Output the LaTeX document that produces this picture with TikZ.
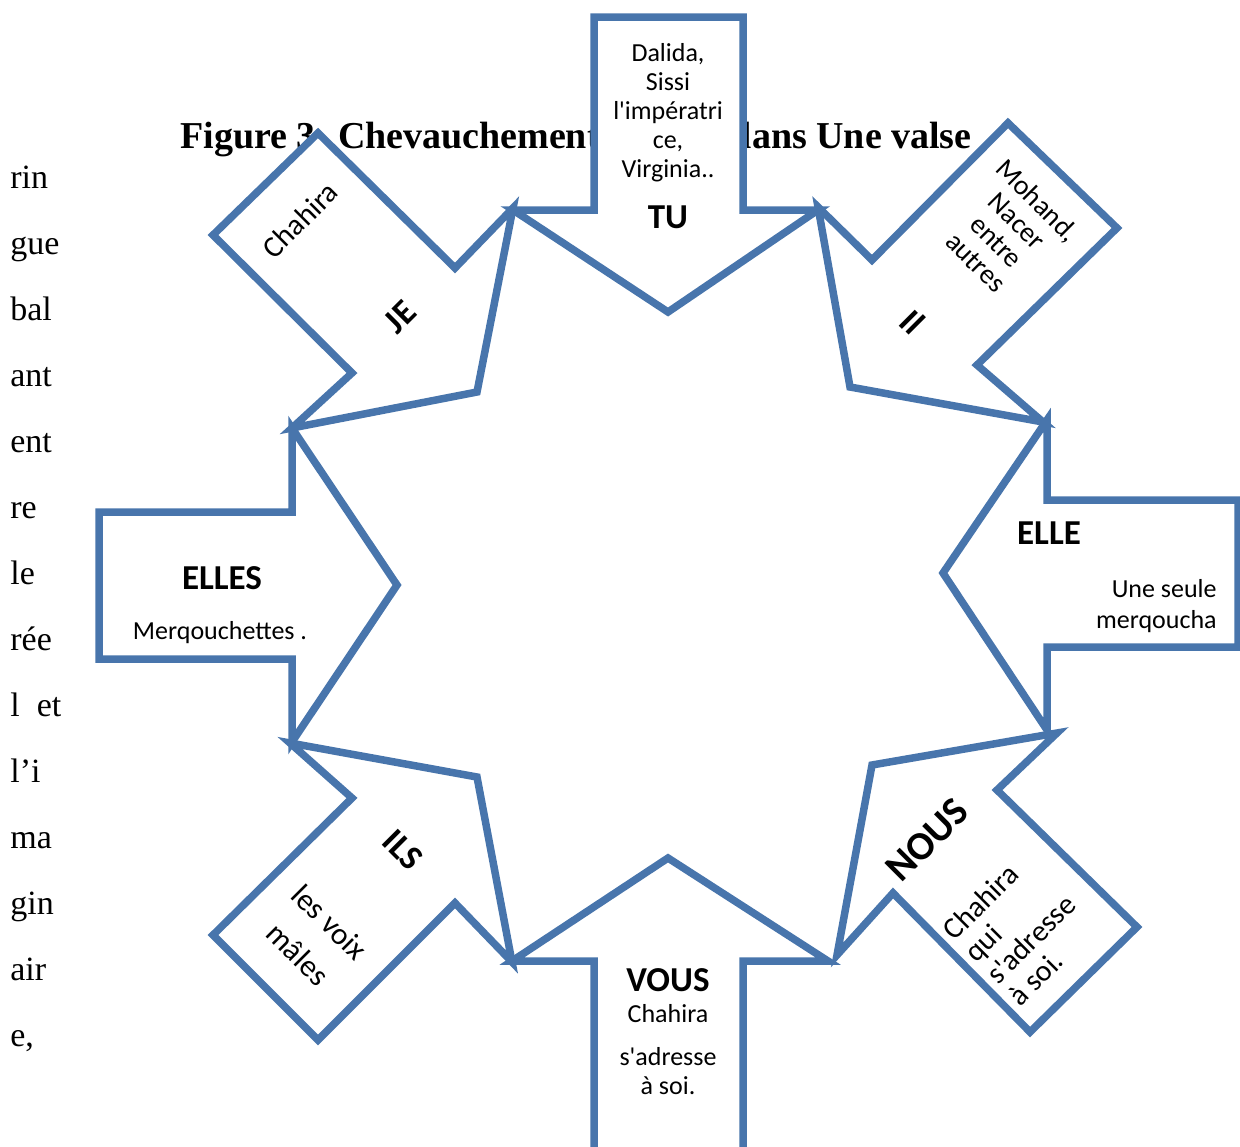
\documentclass[tikz,border=0pt]{standalone}
\usepackage{fontspec}
\setmainfont{Liberation Serif}
\newfontfamily\calibri{Carlito}[Ligatures=TeXOff]
\usepackage{tikz}
\definecolor{shapeblue}{RGB}{72,117,172}

\begin{document}
\begin{tikzpicture}[x=0.5pt, y=-0.5pt,
    arrowshape/.style={draw=shapeblue, fill=white, line width=3.75pt, line join=miter},
    pron/.style={font=\calibri\bfseries\fontsize{17.5}{21}\selectfont, inner sep=0pt},
    who/.style={font=\calibri\fontsize{13}{14.5}\selectfont, align=center, inner sep=0pt},
    body/.style={font=\fontsize{17}{17}\selectfont, anchor=base west, inner sep=0pt}]
      \useasboundingbox (0, 0) rectangle (1240, 1146);

      % text of the page behind the figure
      \node[body, font=\bfseries\fontsize{19}{19}\selectfont] (title) at (180, 148) {Figure 3. Chevauchement};
      \node[body, anchor=base east, font=\bfseries\fontsize{19}{19}\selectfont] (titleend) at (972, 148) {dans Une valse};
      \node[body] (w1) at (10, 188) {rin};
      \node[body] (w2) at (10, 254) {gue};
      \node[body] (w3) at (10, 320) {bal};
      \node[body] (w4) at (10, 386) {ant};
      \node[body] (w5) at (10, 452) {ent};
      \node[body] (w6) at (10, 518) {re};
      \node[body] (w7) at (10, 584) {le};
      \node[body] (w8) at (10, 650) {rée};
      \node[body] (w9) at (10, 716) {l\ \ et};
      \node[body] (w10) at (10, 782) {l’i};
      \node[body] (w11) at (10, 848) {ma};
      \node[body] (w12) at (10, 914) {gin};
      \node[body] (w13) at (10, 980) {air};
      \node[body] (w14) at (10, 1046) {e,};

      % the eight arrows
      \draw[arrowshape] (594, 17) -- (743, 17) -- (743, 210) -- (818, 210) -- (668, 312) -- (513, 210) -- (594, 210) -- cycle;
      \draw[arrowshape] (1008, 123) -- (1117, 228) -- (977, 365) -- (1043, 422) -- (850, 387) -- (818, 207) -- (872, 260) -- cycle;
      \draw[arrowshape] (1238, 500) -- (1238, 647) -- (1047, 647) -- (1047, 730) -- (943, 573) -- (1047, 420) -- (1047, 500) -- cycle;
      \draw[arrowshape] (1137, 927) -- (1030, 1032) -- (893, 893) -- (837, 955) -- (872, 765) -- (1057, 733) -- (997, 790) -- cycle;
      \draw[arrowshape] (743, 1153) -- (594, 1153) -- (594, 961) -- (512, 961) -- (668, 858) -- (828, 961) -- (743, 961) -- cycle;
      \draw[arrowshape] (318, 1040) -- (213, 935) -- (352, 798) -- (290, 743) -- (477, 777) -- (512, 962) -- (455, 903) -- cycle;
      \draw[arrowshape] (99, 512) -- (292, 512) -- (292, 428) -- (397, 585) -- (292, 742) -- (292, 659) -- (99, 659) -- cycle;
      \draw[arrowshape] (213, 235) -- (318, 133) -- (455, 268) -- (513, 208) -- (477, 392) -- (292, 428) -- (352, 373) -- cycle;

      % pronouns and who they stand for
      \node[who] (tuwho) at (668, 113) {Dalida,\\Sissi\\l'impératri\\ce,\\Virginia..};
      \node[pron] (tu) at (668, 217) {TU};

      \node[who, rotate=-45, font=\calibri\fontsize{14}{14.5}\selectfont] (ilwho) at (1007, 231) {Mohand,\\Nacer\\entre\\autres};
      \node[pron, rotate=-45] (il) at (913, 322) {Il};

      \node[pron] (elle) at (1049, 533) {ELLE};
      \node[who, align=right, anchor=east, font=\calibri\fontsize{13}{15.5}\selectfont] (ellewho) at (1217, 606) {Une seule\\merqoucha};

      \node[pron, rotate=45, font=\calibri\bfseries\fontsize{20}{24}\selectfont] (nous) at (927, 840) {NOUS};
      \node[who, rotate=45, align=left, font=\calibri\fontsize{15}{15.5}\selectfont] (nouswho) at (1020, 928) {Chahira\\qui\\s'adresse\\à soi.};

      \node[pron] (vous) at (668, 980) {VOUS};
      \node[who] (vouswho) at (668, 1014) {Chahira};
      \node[who] (vouswhotoo) at (668, 1071) {s'adresse\\à soi.};

      \node[pron, rotate=-45] (ils) at (403, 850) {ILS};
      \node[who, rotate=-45, font=\calibri\fontsize{15.5}{22.5}\selectfont] (ilswho) at (314, 938) {les voix\\mâles};

      \node[pron] (elles) at (222, 578) {ELLES};
      \node[who] (elleswho) at (220, 633) {Merqouchettes .};

      \node[who, rotate=45, font=\calibri\fontsize{15}{15.5}\selectfont] (jewho) at (300, 220) {Chahira};
      \node[pron, rotate=45] (je) at (400, 317) {JE};

    \end{tikzpicture}
\end{document}
